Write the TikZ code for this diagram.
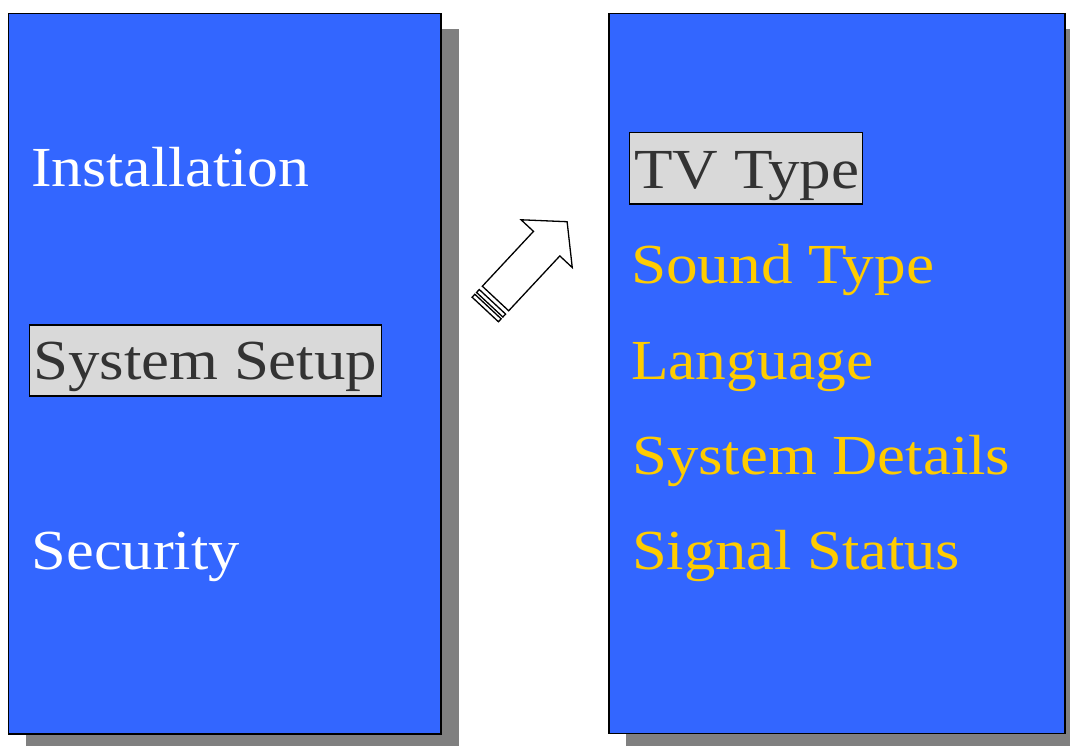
\documentclass[tikz,border=0pt]{standalone}
\usepackage{fontspec}
\setmainfont{Liberation Serif}
\usepackage{graphicx}
\definecolor{panelblue}{HTML}{3366FF}
\definecolor{shadowgray}{HTML}{808080}
\definecolor{hlgray}{HTML}{D9D9D9}
\definecolor{hltext}{HTML}{333333}
\definecolor{menuyellow}{HTML}{FFCC00}
\newcommand{\fitw}[2]{\resizebox{#1pt}{\height}{#2}}
\begin{document}
\begin{tikzpicture}[x=1pt,y=-1pt,
  panel/.style={draw=black, line width=1.5pt, fill=panelblue, inner sep=0pt, outer sep=0pt, anchor=north west},
  shadowbox/.style={fill=shadowgray, draw=none, inner sep=0pt, outer sep=0pt, anchor=north west},
  hlbox/.style={draw=black, line width=1.5pt, fill=hlgray, inner sep=0pt, outer sep=0pt, anchor=north west},
  menu/.style={inner sep=0pt, anchor=base west, font=\fontsize{56.6}{60}\selectfont},
  whiteitem/.style={menu, text=white},
  yellowitem/.style={menu, text=menuyellow},
  selitem/.style={menu, text=hltext},
  blockarrow/.style={draw=black, fill=white, line width=1.3pt, line join=miter}
]
\useasboundingbox (0,0) rectangle (1070,745);
\clip (0,0) rectangle (1070,745);

% left panel
\node[shadowbox, minimum width=433pt, minimum height=740pt] (lshadow) at (25.5,28.5) {};
\node[panel, minimum width=432.5pt, minimum height=720.5pt] (lpanel) at (8.5,13.5) {};
\node[hlbox, minimum width=352pt, minimum height=71pt] (ssbox) at (29.5,325) {};
\node[whiteitem] (inst) at (31,186.5) {\fitw{278}{Installation}};
\node[selitem] (sset) at (33,379.3) {\fitw{344}{System Setup}};
\node[whiteitem] (sec) at (31.5,569.5) {\fitw{208}{Security}};

% right panel
\node[shadowbox, minimum width=456pt, minimum height=740pt] (rshadow) at (626,28.5) {};
\node[panel, minimum width=456pt, minimum height=720pt] (rpanel) at (609,13.5) {};
\node[hlbox, minimum width=233pt, minimum height=71.3pt] (tvbox) at (629.5,132.7) {};
\node[selitem] (tvt) at (634,188.3) {\fitw{225}{TV Type}};
\node[yellowitem] (snd) at (631,283.7) {\fitw{303}{Sound Type}};
\node[yellowitem] (lang) at (631,379) {\fitw{242}{Language}};
\node[yellowitem] (sdet) at (632,474.3) {\fitw{378}{System Details}};
\node[yellowitem] (sig) at (632,569.7) {\fitw{328}{Signal Status}};

% striped block arrow
\begin{scope}[shift={(495.5,298.5)}, rotate=47]
  \draw[blockarrow] (0,-18) -- (75,-18) -- (75,-35) -- (105,0) -- (75,35) -- (75,18) -- (0,18) -- cycle;
  \draw[blockarrow] (-8.5,-18) rectangle (-4.5,18);
  \draw[blockarrow] (-15,-18) rectangle (-11,18);
\end{scope}
\end{tikzpicture}
\end{document}
